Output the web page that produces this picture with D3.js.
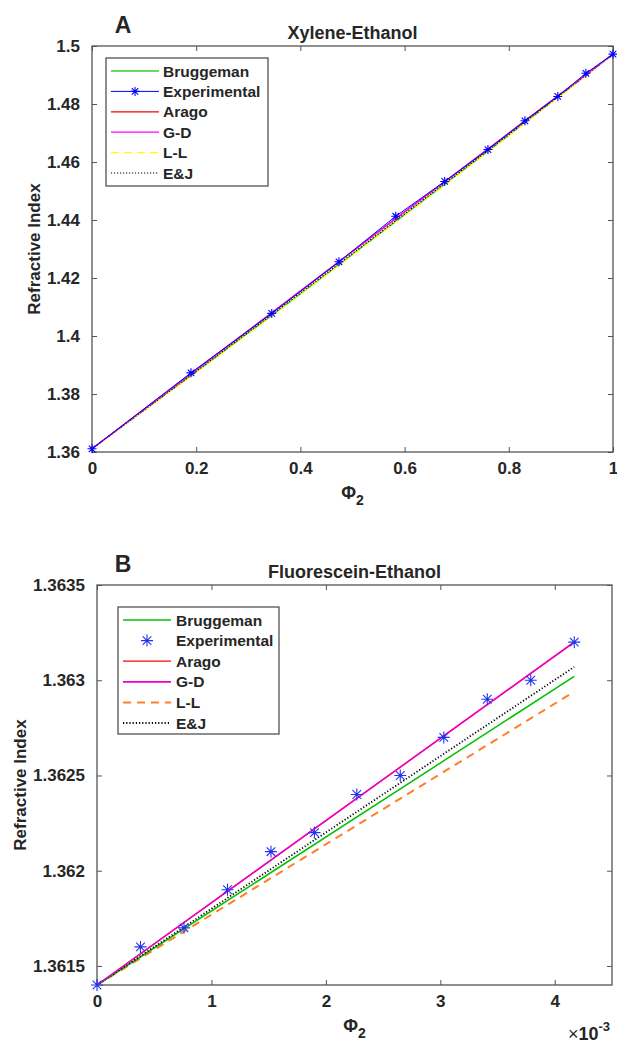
<!DOCTYPE html>
<html>
<head>
<meta charset="utf-8">
<script src="https://cdn.jsdelivr.net/npm/d3@7"></script>
<style>
    body { margin: 0; background: #fff; }
    text { font-family: "Liberation Sans", Arial, sans-serif; font-weight: bold; fill: #262626; }
</style>
</head>
<body>
<svg id="chart" width="617" height="1044"></svg>
<script>
(function figureDefinition() {
    'use strict';

    /* data - panel A (Xylene-Ethanol) */

    var phiA   = [0, 0.19, 0.345, 0.474, 0.583, 0.677, 0.76, 0.831, 0.894, 0.948, 1];
    var expA   = [1.3611, 1.3873, 1.4078, 1.4256, 1.4413, 1.4533, 1.4643, 1.4742, 1.4826, 1.4906, 1.4972];
    var gdA    = [1.3611, 1.3870, 1.4080, 1.4256, 1.4405, 1.4532, 1.4645, 1.4742, 1.4828, 1.4901, 1.4972];
    var aragoA = [1.3611, 1.3870, 1.4080, 1.4256, 1.4405, 1.4532, 1.4645, 1.4742, 1.4828, 1.4901, 1.4972];
    var bruggA = [1.3611, 1.3863, 1.4071, 1.4246, 1.4395, 1.4523, 1.4637, 1.4735, 1.4823, 1.4898, 1.4972];
    var llA    = [1.3611, 1.3861, 1.4068, 1.4243, 1.4392, 1.4520, 1.4635, 1.4734, 1.4822, 1.4897, 1.4972];
    var ejA    = [1.3611, 1.3865, 1.4074, 1.4249, 1.4398, 1.4526, 1.4640, 1.4738, 1.4825, 1.4899, 1.4972];
    var xTicksA = [0, 0.2, 0.4, 0.6, 0.8, 1];
    var yTicksA = [1.36, 1.38, 1.4, 1.42, 1.44, 1.46, 1.48, 1.5];

    /* data - panel B (Fluorescein-Ethanol), phi in units of 1e-3 */

    var phiB   = [0, 0.38, 0.76, 1.14, 1.52, 1.9, 2.27, 2.65, 3.03, 3.41, 3.79, 4.17];
    var expB   = [1.3614, 1.3616, 1.3617, 1.3619, 1.3621, 1.3622, 1.3624, 1.3625, 1.3627, 1.3629, 1.3630, 1.3632];
    var lineXB = [0, 4.17];
    var gdB    = [1.3614, 1.36320];
    var aragoB = [1.3614, 1.36320];
    var bruggB = [1.3614, 1.36302];
    var llB    = [1.3614, 1.36294];
    var ejB    = [1.3614, 1.36307];
    var xTicksB = [0, 1, 2, 3, 4];
    var yTicksB = [1.3615, 1.362, 1.3625, 1.363, 1.3635];

    var legendNames = ['Bruggeman', 'Experimental', 'Arago', 'G-D', 'L-L', 'E&J'];

    var svg = d3.select('#chart');

    /* panel A */

    drawPanel({
        letter: 'A', title: 'Xylene-Ethanol',
        left: 92, right: 613, top: 46, bottom: 452,
        xDomain: [0, 1], yDomain: [1.36, 1.5],
        xTicks: xTicksA, yTicks: yTicksA,
        yLabelX: 34, expLine: true, markerSize: 4.5,
        series: [
            { x: phiA, y: bruggA, color: '#33cc33', width: 1.3, dash: null },
            { x: phiA, y: aragoA, color: '#ff0000', width: 1.2, dash: null },
            { x: phiA, y: llA, color: '#ffff00', width: 1.3, dash: '8,5' },
            { x: phiA, y: ejA, color: '#000000', width: 1.2, dash: '1.2,1.8' },
            { x: phiA, y: gdA, color: '#ff00ff', width: 1.2, dash: null }
        ],
        exp: { x: phiA, y: expA },
        legend: { x: 106, y: 58, w: 162, h: 128, rowH: 20.4, lineX0: 111, lineX1: 159, textX: 163,
            styles: [
                { color: '#33cc33', width: 1.3, dash: null },
                { color: '#0000ff', width: 1, dash: null, star: true, line: true },
                { color: '#ff0000', width: 1.2, dash: null },
                { color: '#ff00ff', width: 1.2, dash: null },
                { color: '#ffff00', width: 1.3, dash: '8,5' },
                { color: '#000000', width: 1.2, dash: '1.2,1.8' }
            ] }
    });

    /* panel B */

    drawPanel({
        letter: 'B', title: 'Fluorescein-Ethanol',
        left: 97, right: 612, top: 585, bottom: 985,
        xDomain: [0, 4.5], yDomain: [1.3614, 1.3635],
        xTicks: xTicksB, yTicks: yTicksB,
        yLabelX: 20, expLine: false, markerSize: 6,
        exponent: true,
        series: [
            { x: lineXB, y: aragoB, color: '#ff0000', width: 1.3, dash: null },
            { x: lineXB, y: llB, color: '#ff7f27', width: 2, dash: '8,6' },
            { x: lineXB, y: bruggB, color: '#00c000', width: 1.5, dash: null },
            { x: lineXB, y: ejB, color: '#000000', width: 1.8, dash: '1.2,2' },
            { x: lineXB, y: gdB, color: '#ee00cc', width: 1.5, dash: null }
        ],
        exp: { x: phiB, y: expB },
        legend: { x: 118, y: 607, w: 161, h: 127, rowH: 20.6, lineX0: 123, lineX1: 171, textX: 176,
            styles: [
                { color: '#00c000', width: 1.5, dash: null },
                { color: '#2233ee', width: 1, dash: null, star: true, line: false },
                { color: '#ff0000', width: 1.3, dash: null },
                { color: '#ee00cc', width: 1.8, dash: null },
                { color: '#ff7f27', width: 2, dash: '8,6' },
                { color: '#000000', width: 1.8, dash: '1.2,2' }
            ] }
    });

    /* helpers */

    function drawPanel(o) {
        var x = d3.scaleLinear().domain(o.xDomain).range([o.left, o.right]);
        var y = d3.scaleLinear().domain(o.yDomain).range([o.bottom, o.top]);
        var g = svg.append('g');

        // --- axes (ticks inward, box on)
        var fmt = function (d) { return String(+d.toFixed(4)); };
        var axB = g.append('g').attr('transform', 'translate(0,' + o.bottom + ')')
            .call(d3.axisBottom(x).tickValues(o.xTicks).tickSize(-5).tickPadding(10).tickFormat(fmt));
        var axT = g.append('g').attr('transform', 'translate(0,' + o.top + ')')
            .call(d3.axisTop(x).tickValues(o.xTicks).tickSize(-5).tickFormat(''));
        var axL = g.append('g').attr('transform', 'translate(' + o.left + ',0)')
            .call(d3.axisLeft(y).tickValues(o.yTicks).tickSize(-5).tickPadding(12).tickFormat(fmt));
        var axR = g.append('g').attr('transform', 'translate(' + o.right + ',0)')
            .call(d3.axisRight(y).tickValues(o.yTicks).tickSize(-5).tickFormat(''));
        [axB, axT, axL, axR].forEach(function (a) {
            a.select('.domain').remove();
            a.selectAll('line').attr('stroke', '#555').attr('stroke-width', 1);
            a.selectAll('text').attr('font-size', 17).attr('fill', '#262626')
                .style('font-family', '"Liberation Sans", Arial, sans-serif').style('font-weight', 'bold');
        });
        axB.selectAll('text').attr('dy', '0.71em');

        g.append('rect')
            .attr('x', o.left).attr('y', o.top)
            .attr('width', o.right - o.left).attr('height', o.bottom - o.top)
            .attr('fill', 'none').attr('stroke', '#555').attr('stroke-width', 1.3);

        // --- lines
        var line = d3.line().x(function (d) { return x(d[0]); }).y(function (d) { return y(d[1]); });
        o.series.forEach(function (s) {
            g.append('path')
                .datum(d3.zip(s.x, s.y))
                .attr('d', line)
                .attr('fill', 'none')
                .attr('stroke', s.color)
                .attr('stroke-width', s.width)
                .attr('stroke-dasharray', s.dash);
        });

        var expPts = d3.zip(o.exp.x, o.exp.y);
        if (o.expLine) {
            g.append('path').datum(expPts).attr('d', line)
                .attr('fill', 'none').attr('stroke', '#0000ff').attr('stroke-width', 1);
        }
        g.selectAll(null).data(expPts).enter().append('path')
            .attr('d', star(o.markerSize))
            .attr('transform', function (d) { return 'translate(' + x(d[0]) + ',' + y(d[1]) + ')'; })
            .attr('fill', 'none').attr('stroke', o.expLine ? '#0000ff' : '#2233ee').attr('stroke-width', 1.1);

        // --- titles and labels
        svg.append('text').attr('x', 123).attr('y', o.top - 13).attr('text-anchor', 'middle')
            .attr('font-size', 23).text(o.letter);
        svg.append('text').attr('x', (o.left + o.right) / 2).attr('y', o.top - 7).attr('text-anchor', 'middle')
            .attr('font-size', 18).text(o.title);
        svg.append('text')
            .attr('transform', 'translate(' + o.yLabelX + ',' + (o.top + o.bottom) / 2 + ') rotate(-90)')
            .attr('text-anchor', 'middle').attr('dy', '0.35em')
            .attr('font-size', 17).text('Refractive Index');
        var xl = svg.append('text').attr('x', (o.left + o.right) / 2).attr('y', o.bottom + 47)
            .attr('text-anchor', 'middle').attr('font-size', 18);
        xl.append('tspan').text('\u03A6');
        xl.append('tspan').attr('font-size', 14).attr('dy', 6).text('2');

        if (o.exponent) {
            var ex = svg.append('text').attr('x', o.right - 2).attr('y', o.bottom + 55)
                .attr('text-anchor', 'end').attr('font-size', 18);
            ex.append('tspan').style('font-weight', 'normal').text('\u00D7');
            ex.append('tspan').text('10');
            ex.append('tspan').attr('font-size', 13).attr('dy', -9).text('-3');
        }

        // --- legend
        var L = o.legend;
        var lg = svg.append('g');
        lg.append('rect').attr('x', L.x).attr('y', L.y).attr('width', L.w).attr('height', L.h)
            .attr('fill', '#fff').attr('stroke', '#444').attr('stroke-width', 1.2);
        legendNames.forEach(function (name, i) {
            var st = L.styles[i];
            var cy = L.y + 13 + i * L.rowH;
            if (!st.star || st.line) {
                lg.append('line').attr('x1', L.lineX0).attr('x2', L.lineX1).attr('y1', cy).attr('y2', cy)
                    .attr('stroke', st.color).attr('stroke-width', st.width).attr('stroke-dasharray', st.dash);
            }
            if (st.star) {
                lg.append('path').attr('d', star(o.markerSize))
                    .attr('transform', 'translate(' + (L.lineX0 + L.lineX1) / 2 + ',' + cy + ')')
                    .attr('fill', 'none').attr('stroke', st.color).attr('stroke-width', 1.1);
            }
            lg.append('text').attr('x', L.textX).attr('y', cy).attr('dy', '0.36em')
                .attr('font-size', 15.5).text(name);
        });
    }

    function star(r) {
        var d = r * 0.72;
        return 'M' + (-r) + ',0H' + r + 'M0,' + (-r) + 'V' + r +
            'M' + (-d) + ',' + (-d) + 'L' + d + ',' + d + 'M' + (-d) + ',' + d + 'L' + d + ',' + (-d);
    }
})();
</script>
</body>
</html>
